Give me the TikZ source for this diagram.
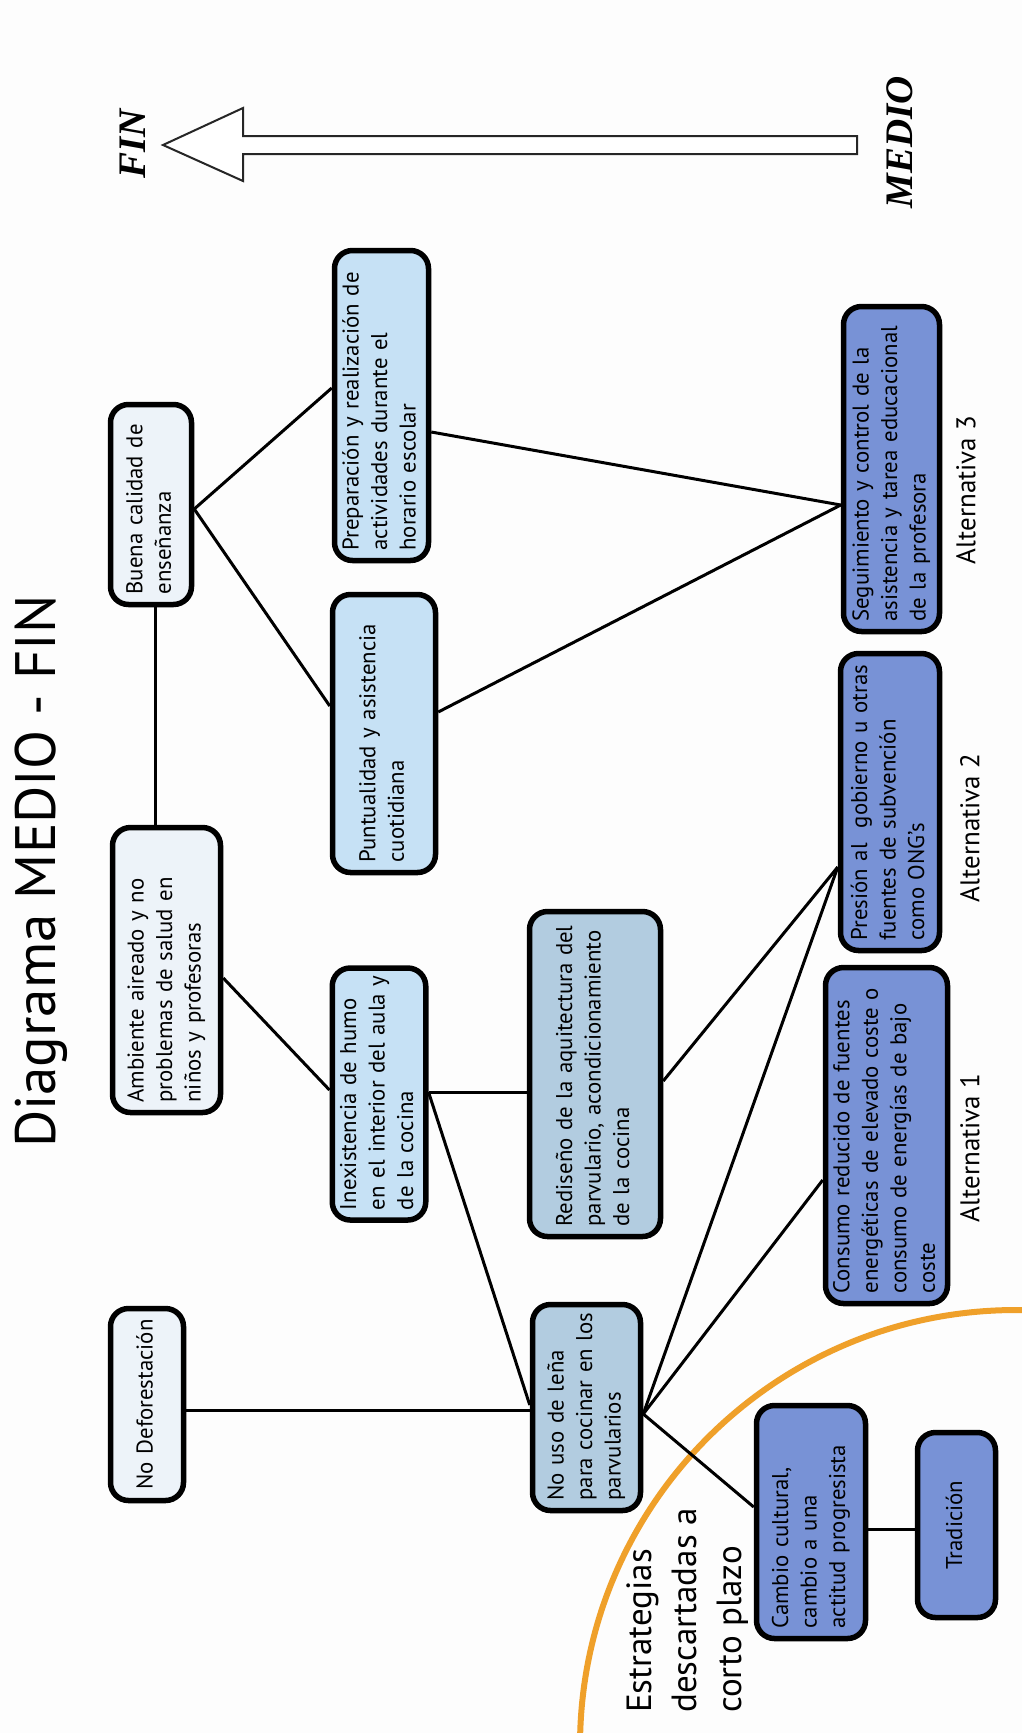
\documentclass[tikz,border=0pt]{standalone}
\usepackage{fontspec}
\setmainfont{PT Sans}
\newfontfamily\headserif{Liberation Serif}
\definecolor{paper}{HTML}{FDFDFD}
\definecolor{paleblue}{HTML}{EDF3F9}
\definecolor{skyblue}{HTML}{C6E1F5}
\definecolor{steelblue}{HTML}{B2CCE0}
\definecolor{deepblue}{HTML}{7892D6}
\definecolor{marigold}{HTML}{EFA02A}
% a block of lines that never wraps
\newcommand\cardlines[1]{\begin{tabular}{@{}l@{}}#1\end{tabular}}
\begin{document}
\begin{tikzpicture}[x=1pt,y=-1pt,
  card/.style={rotate=90, draw=black, line width=5.5pt, rounded corners=18pt,
    inner xsep=10pt, inner ysep=4pt, align=left, text=black,
    font=\fontsize{22.8}{28.5}\selectfont},
  pale/.style={card, fill=paleblue},
  sky/.style={card, fill=skyblue},
  steel/.style={card, fill=steelblue},
  deep/.style={card, fill=deepblue},
  link/.style={line width=3pt, draw=black},
  altlabel/.style={rotate=90, font=\fontsize{27}{30}\selectfont},
  endlabel/.style={rotate=90, anchor=base, font=\headserif\bfseries\itshape\fontsize{39}{40}\selectfont},
]
\useasboundingbox (0,0) rectangle (1022,1733);
\fill[paper] (0,0) rectangle (1022,1733);

% discarded-strategies boundary
\draw[draw=marigold, line width=6pt] (1016,1746) circle[radius=436];

% title
\node[rotate=90, anchor=base, font=\fontsize{57}{60}\selectfont] (title) at (55,871.5) {Diagrama MEDIO - FIN};

% direction arrow from MEDIO to FIN
\draw[line width=2pt, draw=black!85, fill=white, line join=miter]
  (163,145) -- (243,108) -- (243,136) -- (857,136) -- (857,154) -- (243,154) -- (243,181) -- cycle;
\node[endlabel] (fin) at (145,144) {FIN};
\node[endlabel] (medio) at (912,142.5) {MEDIO};

% boxes
\node[pale, minimum width=200pt, minimum height=81pt, text width=180pt] (buena) at (151,504.5)
  {\cardlines{Buena calidad de\\enseñanza}};
\node[sky, minimum width=310pt, minimum height=94pt, text width=290pt] (prep) at (381.5,405.5)
  {\cardlines{Preparación y realización de\\actividades durante el\\horario escolar}};
\node[sky, minimum width=278pt, minimum height=103pt, text width=258pt] (punt) at (384,733.5)
  {\cardlines{Puntualidad y asistencia\\cuotidiana}};
\node[deep, minimum width=325pt, minimum height=96pt, text width=305pt] (seg) at (891.5,469)
  {\cardlines{Seguimiento y control de la\\asistencia y tarea educacional\\de la profesora}};
\node[pale, minimum width=285pt, minimum height=108pt, text width=265pt] (amb) at (166.5,970)
  {\cardlines{Ambiente aireado y no\\problemas de salud en\\niños y profesoras}};
\node[sky, minimum width=252pt, minimum height=87pt, text width=232pt] (inex) at (379,1094)
  {\cardlines{Inexistencia de humo\\en el interior del aula y\\de la cocina}};
\node[steel, minimum width=325pt, minimum height=131pt, text width=305pt] (red) at (595,1074)
  {\cardlines{Rediseño de la aquitectura del\\parvulario, acondicionamiento\\de la cocina}};
\node[deep, minimum width=297pt, minimum height=99pt, text width=277pt] (pres) at (890,802)
  {\cardlines{Presión al\ \ gobierno u otras\\fuentes de subvención\\como ONG’s}};
\node[deep, minimum width=336pt, minimum height=112pt, text width=316pt] (cons) at (886.5,1135.5)
  {\cardlines{Consumo reducido de fuentes\\energéticas de elevado coste o\\consumo de energías de bajo\\coste}};
\node[pale, minimum width=192pt, minimum height=73pt, text width=172pt, align=center] (nodef) at (147,1404.5)
  {\cardlines{No Deforestación}};
\node[steel, minimum width=206pt, minimum height=108pt, text width=186pt] (nouso) at (586.5,1407.5)
  {\cardlines{No uso de leña\\para cocinar en los\\parvularios}};
\node[deep, minimum width=233pt, minimum height=109pt, text width=213pt] (cambio) at (811,1522)
  {\cardlines{Cambio cultural,\\cambio a una\\actitud progresista}};
\node[deep, minimum width=185pt, minimum height=78pt, text width=165pt, align=center] (trad) at (956.5,1525)
  {\cardlines{Tradición}};

% alternative labels
\node[altlabel] (alt3) at (966,490) {Alternativa 3};
\node[altlabel] (alt2) at (970,828) {Alternativa 2};
\node[altlabel] (alt1) at (970,1148) {Alternativa 1};

% discarded strategies label
\node[rotate=90, anchor=north west, align=left, inner sep=0pt, font=\fontsize{35}{45}\selectfont]
  (descartadas) at (627,1713) {Estrategias\\descartadas a\\corto plazo};

% connectors
\draw[link] ([yshift=-4.5pt]buena.south) -- ([yshift=17.5pt]prep.north);
\draw[link] ([yshift=-4.5pt]buena.south) -- ([yshift=27.5pt]punt.north);
\draw[link] ([xshift=4pt]buena.west) -- ([xshift=4pt]buena.west |- amb.east);
\draw[link] ([yshift=-26.5pt]prep.south) -- ([yshift=-36pt]seg.north);
\draw[link] ([yshift=21.5pt]punt.south) -- ([yshift=-36pt]seg.north);
\draw[link] ([yshift=-8pt]amb.south) -- ([yshift=4pt]inex.north);
\coordinate (inexout) at ([yshift=2pt]inex.south);
\draw[link] (inexout) -- (inexout -| red.north);
\draw[link] (inexout) -- ([yshift=2.5pt]nouso.north);
\coordinate (nodefout) at ([yshift=-5.5pt]nodef.south);
\draw[link] (nodefout) -- (nodefout -| nouso.north);
\draw[link] ([yshift=-6.5pt]nouso.south) -- ([yshift=-65pt]pres.north);
\draw[link] ([yshift=-6.5pt]nouso.south) -- ([yshift=-44.5pt]cons.north);
\draw[link] ([yshift=-6.5pt]nouso.south) -- ([yshift=15pt]cambio.north);
\draw[link] ([yshift=-7pt]red.south) -- ([yshift=-65pt]pres.north);
\coordinate (cambioout) at ([yshift=-7pt]cambio.south);
\draw[link] (cambioout) -- (cambioout -| trad.north);
\end{tikzpicture}
\end{document}
